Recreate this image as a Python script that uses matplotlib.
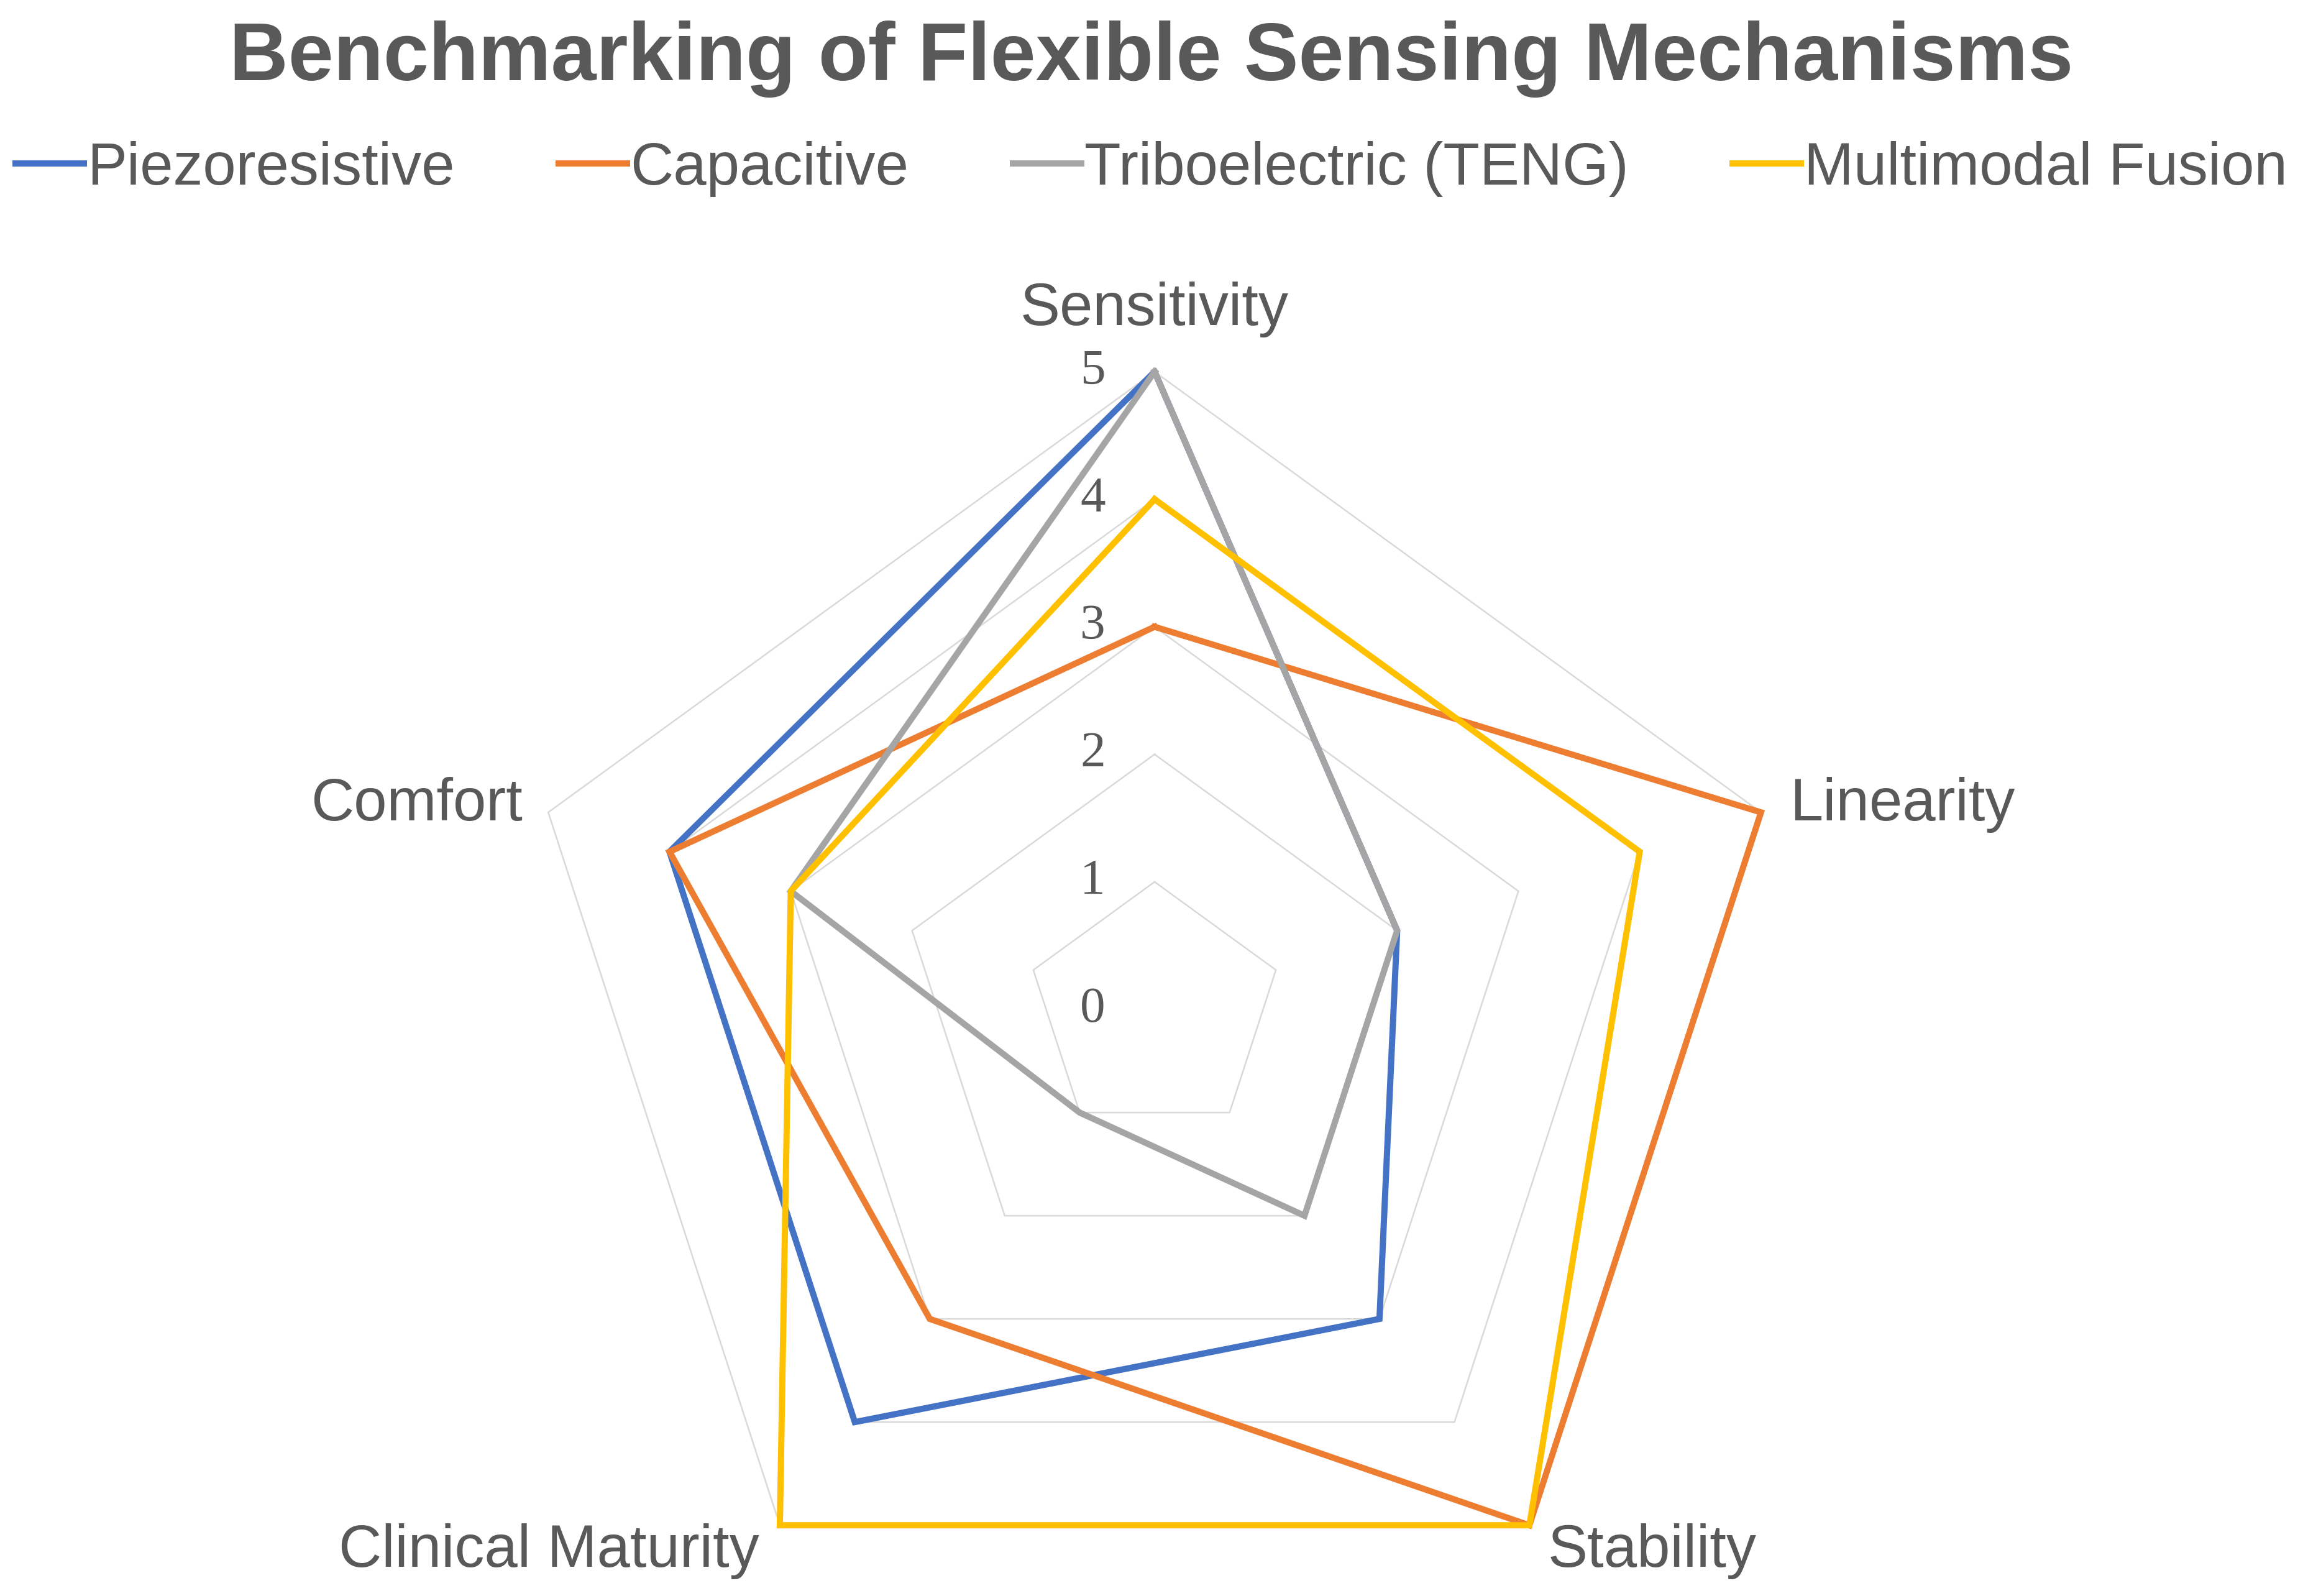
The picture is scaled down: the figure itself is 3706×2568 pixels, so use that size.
import matplotlib.pyplot as plt
import numpy as np

# data
categories = ["Sensitivity", "Linearity", "Stability", "Clinical Maturity", "Comfort"]
series_names = ["Piezoresistive", "Capacitive", "Triboelectric (TENG)", "Multimodal Fusion"]
piezoresistive = [5, 2, 3, 4, 4]
capacitive = [3, 5, 5, 3, 4]
triboelectric = [5, 2, 2, 1, 3]
multimodal = [4, 4, 5, 5, 3]
ticks = [0, 1, 2, 3, 4, 5]

colors = ["#4472C4", "#ED7D31", "#A5A5A5", "#FFC000"]
txt = "#595959"

plt.rcParams['font.family'] = ['Liberation Sans', 'DejaVu Sans']

fig = plt.figure(figsize=(3706 / 300, 2568 / 300), dpi=300)
ax = fig.add_axes([0.2245, -0.032, 0.5537, 0.7991], projection='polar')
ax.set_theta_zero_location('N')
ax.set_theta_direction(-1)
ax.set_ylim(0, 5)
ax.grid(False)
ax.spines['polar'].set_visible(False)
ax.set_xticks([])
ax.set_yticks([])
ax.patch.set_visible(False)

angles = np.linspace(0, 2 * np.pi, len(categories), endpoint=False)
closed = np.append(angles, angles[0])

# pentagon grid
for t in ticks[1:]:
    ax.plot(closed, [t] * len(closed), color="#D9D9D9", lw=0.6, zorder=1, clip_on=False)

for name, vals, c in zip(series_names, [piezoresistive, capacitive, triboelectric, multimodal], colors):
    ax.plot(closed, vals + vals[:1], color=c, lw=2.4, label=name, zorder=3,
            clip_on=False, solid_joinstyle='miter')

# value labels on the vertical axis
for t in ticks:
    ax.annotate(str(t), xy=(0, t), xytext=(-19, 0), textcoords='offset points',
                ha='right', va='center', family=['Liberation Serif', 'DejaVu Serif'],
                fontsize=19.5, color=txt)

# category labels
label_pos = {
    "Sensitivity": ((0, 24), 'center'),
    "Linearity": ((11, 3), 'left'),
    "Stability": ((7, -10), 'left'),
    "Clinical Maturity": ((-8, -10), 'right'),
    "Comfort": ((-10, 3), 'right'),
}
for a, cat in zip(angles, categories):
    off, ha = label_pos[cat]
    ax.annotate(cat, xy=(a, 5), xytext=off, textcoords='offset points',
                ha=ha, va='center', fontsize=23, color=txt)

fig.text(0.5, 1 - 95 / 2568, "Benchmarking of Flexible Sensing Mechanisms",
         ha='center', va='center', fontsize=31.5, fontweight='bold', color=txt)

fig.legend(loc='center', bbox_to_anchor=(0.5, 1 - 272 / 2568), ncol=4, frameon=False,
           handlelength=1.15, handletextpad=0.05, columnspacing=1.75, fontsize=23,
           labelcolor=txt)

fig.savefig("out.png", dpi=300)
